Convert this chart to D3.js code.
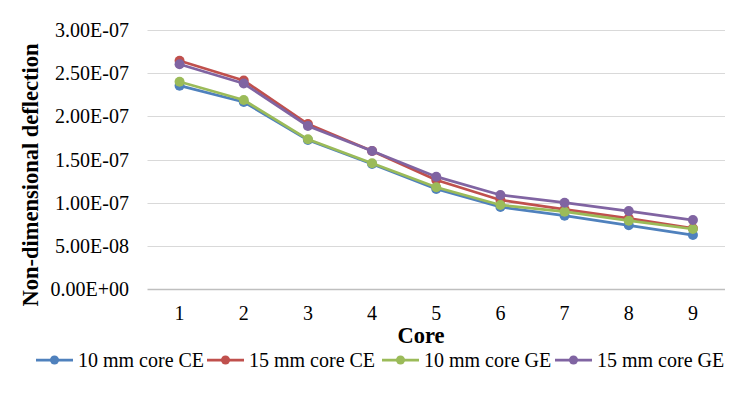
<!DOCTYPE html>
<html>
<head>
<meta charset="utf-8">
<script src="https://cdn.jsdelivr.net/npm/d3@7"></script>
<style>
  body { margin: 0; background: #fff; }
  svg text { font-family: 'Liberation Serif', Tinos, 'Times New Roman', 'DejaVu Serif', serif; fill: #000; }
</style>
</head>
<body>
<svg id="chart" width="749" height="397"></svg>
<script>
// data
var cores = [1, 2, 3, 4, 5, 6, 7, 8, 9];
var yTicks = [0, 5e-8, 1e-7, 1.5e-7, 2e-7, 2.5e-7, 3e-7];
var ce10 = [2.355e-7, 2.166e-7, 1.726e-7, 1.448e-7, 1.158e-7, 0.950e-7, 0.849e-7, 0.738e-7, 0.625e-7];
var ce15 = [2.644e-7, 2.415e-7, 1.910e-7, 1.598e-7, 1.263e-7, 1.031e-7, 0.923e-7, 0.819e-7, 0.703e-7];
var ge10 = [2.401e-7, 2.189e-7, 1.734e-7, 1.456e-7, 1.178e-7, 0.973e-7, 0.896e-7, 0.791e-7, 0.695e-7];
var ge15 = [2.603e-7, 2.380e-7, 1.888e-7, 1.598e-7, 1.301e-7, 1.089e-7, 1.000e-7, 0.903e-7, 0.799e-7];
var seriesNames = ["10 mm core CE", "15 mm core CE", "10 mm core GE", "15 mm core GE"];
var seriesColors = ["#4F81BD", "#C0504D", "#9BBB59", "#8064A2"];

var series = [ce10, ce15, ge10, ge15].map(function (vals, i) {
  return { name: seriesNames[i], color: seriesColors[i], values: vals };
});

var serif = "'Liberation Serif', Tinos, 'Times New Roman', 'DejaVu Serif', serif";
var svg = d3.select("#chart");
var plotLeft = 147.5, plotRight = 725, plotTop = 30, plotBottom = 289;

var x = d3.scaleBand().domain(cores).range([plotLeft, plotRight]);
var y = d3.scaleLinear().domain([0, 3e-7]).range([plotBottom, plotTop]);

function fmt(v) {
  if (v === 0) return "0.00E+00";
  var e = Math.floor(Math.log10(v) + 1e-9);
  var m = v / Math.pow(10, e);
  return m.toFixed(2) + "E" + (e < 0 ? "-" : "+") + String(Math.abs(e)).padStart(2, "0");
}

// gridlines
svg.append("g")
  .selectAll("line")
  .data(yTicks)
  .enter()
  .append("line")
  .attr("x1", plotLeft)
  .attr("x2", plotRight)
  .attr("y1", function (d) { return Math.round(y(d)) + 0.5; })
  .attr("y2", function (d) { return Math.round(y(d)) + 0.5; })
  .style("stroke", function (d) { return d === 0 ? "#BFBFBF" : "#D9D9D9"; })
  .style("stroke-width", function (d) { return d === 0 ? 1.5 : 1; });

// y tick labels
svg.append("g")
  .selectAll("text")
  .data(yTicks)
  .enter()
  .append("text")
  .attr("x", 129)
  .attr("y", function (d) { return y(d); })
  .attr("dy", "0.35em")
  .attr("text-anchor", "end")
  .style("font-family", serif)
  .style("font-size", "20px")
  .text(fmt);

// x tick labels
svg.append("g")
  .selectAll("text")
  .data(cores)
  .enter()
  .append("text")
  .attr("x", function (d) { return x(d) + x.bandwidth() / 2; })
  .attr("y", 320)
  .attr("text-anchor", "middle")
  .style("font-family", serif)
  .style("font-size", "20px")
  .text(function (d) { return d; });

// axis titles
svg.append("text")
  .attr("x", 421)
  .attr("y", 343)
  .attr("text-anchor", "middle")
  .style("font-family", serif)
  .style("font-size", "22.5px")
  .style("font-weight", "bold")
  .text("Core");

svg.append("text")
  .attr("text-anchor", "middle")
  .attr("transform", "translate(38,175)rotate(-90)")
  .style("font-family", serif)
  .style("font-size", "22.5px")
  .style("font-weight", "bold")
  .text("Non-dimensional deflection");

// lines
var line = d3.line()
  .x(function (d, i) { return x(cores[i]) + x.bandwidth() / 2; })
  .y(function (d) { return y(d); });

var sg = svg.append("g")
  .selectAll("g")
  .data(series)
  .enter()
  .append("g");

sg.append("path")
  .attr("d", function (d) { return line(d.values); })
  .style("fill", "none")
  .style("stroke", function (d) { return d.color; })
  .style("stroke-width", 2.75)
  .style("stroke-linejoin", "round");

sg.selectAll("circle")
  .data(function (d) { return d.values.map(function (v, i) { return { v: v, i: i, color: d.color }; }); })
  .enter()
  .append("circle")
  .attr("cx", function (d) { return x(cores[d.i]) + x.bandwidth() / 2; })
  .attr("cy", function (d) { return y(d.v); })
  .attr("r", 5)
  .style("fill", function (d) { return d.color; });

// legend
var legendX = [36, 207, 382, 555];
var lg = svg.append("g")
  .selectAll("g")
  .data(series)
  .enter()
  .append("g")
  .attr("transform", function (d, i) { return "translate(" + legendX[i] + ",360)"; });

lg.append("line")
  .attr("x1", 0).attr("x2", 37)
  .attr("y1", 0).attr("y2", 0)
  .style("stroke", function (d) { return d.color; })
  .style("stroke-width", 2.75);

lg.append("circle")
  .attr("cx", 18.5).attr("cy", 0).attr("r", 4.5)
  .style("fill", function (d) { return d.color; });

lg.append("text")
  .attr("x", 42)
  .attr("y", 0)
  .attr("dy", "0.33em")
  .style("font-family", serif)
  .style("font-size", "20px")
  .text(function (d) { return d.name; });
</script>
</body>
</html>
